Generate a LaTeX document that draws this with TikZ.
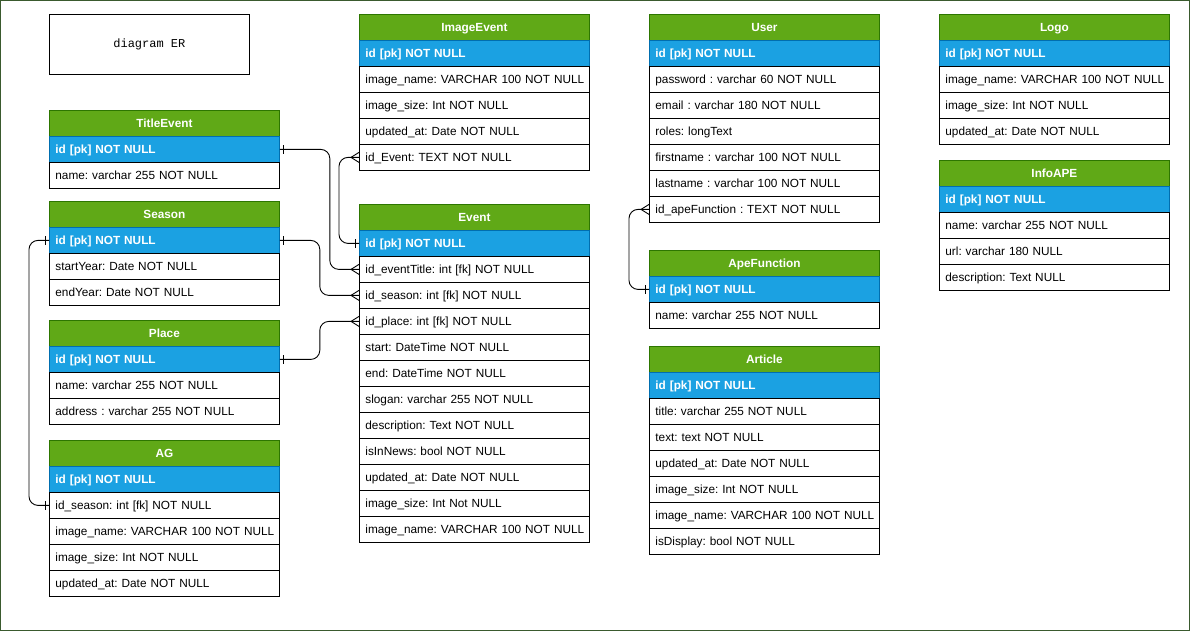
\documentclass[tikz,border=0pt]{standalone}
\usepackage{fontspec}
\setmainfont{Liberation Sans}
\newfontfamily\monof{Liberation Mono}
\frenchspacing
\definecolor{hdrgreen}{HTML}{60A917}
\definecolor{hdrgreenline}{HTML}{2D7600}
\definecolor{idblue}{HTML}{1BA1E2}
\definecolor{idblueline}{HTML}{006EAF}
\definecolor{framegreen}{HTML}{3A5A2E}
\tikzset{
  cellbase/.style={anchor=north west, text width=218pt, inner xsep=6pt, inner ysep=0pt,
    minimum height=26pt, text height=10pt, text depth=2pt, line width=0.8pt,
    font=\fontsize{11.8}{14}\selectfont\frenchspacing},
  hdr/.style={cellbase, fill=hdrgreen, draw=hdrgreenline, align=center, text=white,
    font=\fontsize{11.8}{14}\selectfont\bfseries},
  idrow/.style={cellbase, fill=idblue, draw=idblueline, align=left, text=white,
    font=\fontsize{11.8}{14}\selectfont\bfseries\frenchspacing},
  row/.style={cellbase, fill=white, draw=black, align=left},
  rel/.style={draw=black, line width=0.9pt, rounded corners=9pt},
  mk/.style={draw=black, line width=0.9pt},
}
\newcommand\ertable[5]{%
  \node[hdr] (#1-h) at (#2,#3) {#4};
  \foreach \t [count=\i] in {#5}{%
    \ifnum\i=1
      \node[idrow] (#1-\i) at (#2,#3+26*\i) {\mbox{\t}};
    \else
      \node[row] (#1-\i) at (#2,#3+26*\i) {\mbox{\t}};
    \fi
  }%
}
% markers
\newcommand\barW[1]{\draw[mk] ([xshift=-4pt,yshift=-4.5pt]#1.west) -- ([xshift=-4pt,yshift=4.5pt]#1.west);}
\newcommand\barE[1]{\draw[mk] ([xshift=4pt,yshift=-4.5pt]#1.east) -- ([xshift=4pt,yshift=4.5pt]#1.east);}
\newcommand\crowW[1]{\draw[mk] ([yshift=5pt]#1.west) -- ([xshift=-8pt]#1.west) -- ([yshift=-5pt]#1.west);}
\begin{document}
\begin{tikzpicture}[x=1pt,y=-1pt]
\useasboundingbox (0,0) rectangle (1190,631);
\draw[framegreen, line width=1.2pt] (0.6,0.6) rectangle (1189.4,630.4);

\node[draw=black, line width=0.8pt, anchor=north west, minimum width=200pt, minimum height=60pt,
  font=\monof\fontsize{12}{14}\selectfont] (title) at (49,14) {diagram ER};

\ertable{titleevent}{49}{110}{TitleEvent}{id [pk] NOT NULL, name: varchar 255 NOT NULL}
\ertable{season}{49}{201}{Season}{id [pk] NOT NULL, startYear: Date NOT NULL, endYear: Date NOT NULL}
\ertable{place}{49}{320}{Place}{id [pk] NOT NULL, name: varchar 255 NOT NULL, address : varchar 255 NOT NULL}
\ertable{ag}{49}{440}{AG}{id [pk] NOT NULL, id\_season: int [fk] NOT NULL, image\_name: VARCHAR 100 NOT NULL, image\_size: Int NOT NULL, updated\_at: Date NOT NULL}

\ertable{imageevent}{359}{14}{ImageEvent}{id [pk] NOT NULL, image\_name: VARCHAR 100 NOT NULL, image\_size: Int NOT NULL, updated\_at: Date NOT NULL, id\_Event: TEXT NOT NULL}
\ertable{event}{359}{204}{Event}{id [pk] NOT NULL, id\_eventTitle: int [fk] NOT NULL, id\_season: int [fk] NOT NULL, id\_place: int [fk] NOT NULL, start: DateTime NOT NULL, end: DateTime NOT NULL, slogan: varchar 255 NOT NULL, description: Text NOT NULL, isInNews: bool NOT NULL, updated\_at: Date NOT NULL, image\_size: Int Not NULL, image\_name: VARCHAR 100 NOT NULL}

\ertable{user}{649}{14}{User}{id [pk] NOT NULL, password : varchar 60 NOT NULL, email : varchar 180 NOT NULL, roles: longText, firstname : varchar 100 NOT NULL, lastname : varchar 100 NOT NULL, id\_apeFunction : TEXT NOT NULL}
\ertable{apefunction}{649}{250}{ApeFunction}{id [pk] NOT NULL, name: varchar 255 NOT NULL}
\ertable{article}{649}{346}{Article}{id [pk] NOT NULL, title: varchar 255 NOT NULL, text: text NOT NULL, updated\_at: Date NOT NULL, image\_size: Int NOT NULL, image\_name: VARCHAR 100 NOT NULL, isDisplay: bool NOT NULL}

\ertable{logo}{939}{14}{Logo}{id [pk] NOT NULL, image\_name: VARCHAR 100 NOT NULL, image\_size: Int NOT NULL, updated\_at: Date NOT NULL}
\ertable{infoape}{939}{160}{InfoAPE}{id [pk] NOT NULL, name: varchar 255 NOT NULL, url: varchar 180 NULL, description: Text NULL}

% connectors
\draw[rel] (titleevent-1.east) -- ++(50,0) |- (event-2.west);
\barE{titleevent-1} \crowW{event-2}

\draw[rel] (imageevent-5.west) -- ++(-20,0) |- (event-1.west);
\crowW{imageevent-5} \barW{event-1}

\draw[rel] (season-1.east) -- ++(40,0) |- (event-3.west);
\barE{season-1} \crowW{event-3}

\draw[rel] (place-1.east) -- ++(40,0) |- (event-4.west);
\barE{place-1} \crowW{event-4}

\draw[rel] (season-1.west) -- ++(-20,0) |- (ag-2.west);
\barW{season-1} \barW{ag-2}

\draw[rel] (user-7.west) -- ++(-20,0) |- (apefunction-1.west);
\crowW{user-7} \barW{apefunction-1}
\end{tikzpicture}
\end{document}
